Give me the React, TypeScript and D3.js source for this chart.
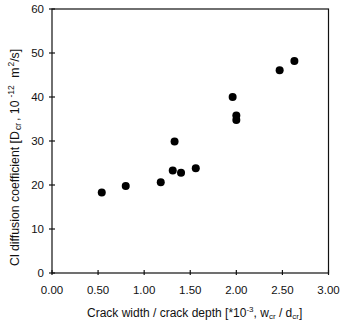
import React from "react";
import * as d3 from "d3";

const crackRatio = [0.54, 0.8, 1.18, 1.31, 1.33, 1.4, 1.56, 1.96, 2.0, 2.0, 2.47, 2.63];
const diffusion = [18.3, 19.8, 20.6, 23.3, 29.9, 22.8, 23.8, 40.0, 35.8, 34.8, 46.1, 48.2];
const xTicks = [0, 0.5, 1, 1.5, 2, 2.5, 3];
const xTickLabels = ["0.00", "0.50", "1.00", "1.50", "2.00", "2.50", "3.00"];
const yTicks = [0, 10, 20, 30, 40, 50, 60];

export default function App() {
  const W = 341, H = 324;
  const left = 52, right = 328.5, top = 9, bottom = 273;
  const x = d3.scaleLinear().domain([0, 3]).range([left, right]);
  const y = d3.scaleLinear().domain([0, 60]).range([bottom, top]);
  const font = "Liberation Sans, Arial, sans-serif";
  const ink = "#111";
  return (
    <svg width={W} height={H} style={{ position: "absolute", left: 0, top: 0, background: "#fff" }}
      fontFamily={font}>
      <rect x={left} y={top} width={right - left} height={bottom - top} fill="none" stroke={ink} strokeWidth={1.2} />
      {yTicks.map((t) => (
        <g key={"y" + t}>
          <line x1={left - 3} x2={left + 3} y1={y(t)} y2={y(t)} stroke={ink} strokeWidth={1.2} />
          <text x={44} y={y(t) + 4} fontSize={11.5} textAnchor="end" fill={ink}>{t}</text>
        </g>
      ))}
      {xTicks.map((t, i) => (
        <g key={"x" + t}>
          <line x1={x(t)} x2={x(t)} y1={bottom - 3} y2={bottom + 2} stroke={ink} strokeWidth={1.2} />
          <text x={x(t)} y={294} fontSize={11.5} textAnchor="middle" fill={ink}>{xTickLabels[i]}</text>
        </g>
      ))}
      {crackRatio.map((cx, i) => (
        <circle key={"p" + i} cx={x(cx)} cy={y(diffusion[i])} r={4} fill="#000" />
      ))}
      <text x={87} y={317} fontSize={12} textAnchor="start" fill={ink}>
        Crack width / crack depth [*10<tspan dy={-5} fontSize={8}>-3</tspan>
        <tspan dy={5}>, w</tspan><tspan dy={2} fontSize={8}>cr</tspan>
        <tspan dy={-2}> / d</tspan><tspan dy={2} fontSize={8}>cr</tspan><tspan dy={-2}>]</tspan>
      </text>
      <text transform={`translate(19,266) rotate(-90)`} fontSize={12.3} textAnchor="start" fill={ink}>
        Cl diffusion coefficient [D<tspan dx={1} dy={2} fontSize={8.5}>cr</tspan>
        <tspan dx={2} dy={-2}>, 10</tspan><tspan dx={3} dy={-5} fontSize={8.5}>-12</tspan>
        <tspan dx={4} dy={5}> m</tspan><tspan dx={1} dy={-5} fontSize={8.5}>2</tspan><tspan dy={5}>/s]</tspan>
      </text>
    </svg>
  );
}
